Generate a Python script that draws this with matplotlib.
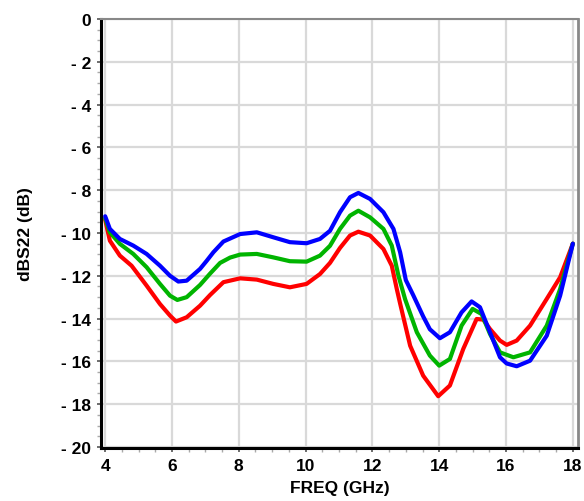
import matplotlib
matplotlib.use("Agg")
import matplotlib.pyplot as plt
from matplotlib.ticker import MultipleLocator, FuncFormatter

freq_blue = [4.0, 4.14, 4.44, 4.84, 5.24, 5.64, 5.94, 6.19, 6.44, 6.84, 7.04, 7.24, 7.54, 8.04, 8.54, 9.03,
             9.53, 10.03, 10.43, 10.73, 11.03, 11.33, 11.58, 11.93, 12.33, 12.63, 12.83, 13.0, 13.22, 13.52,
             13.72, 14.02, 14.32, 14.67, 14.97, 15.22, 15.52, 15.82, 16.02, 16.32, 16.72, 17.22, 17.62, 18.0]
s22_blue = [-9.22, -9.81, -10.28, -10.59, -10.98, -11.53, -12.0, -12.27, -12.23, -11.68, -11.3, -10.9, -10.4,
            -10.05, -9.97, -10.2, -10.43, -10.48, -10.28, -9.9, -9.03, -8.33, -8.13, -8.41, -9.03, -9.81, -10.9,
            -12.2, -12.9, -13.9, -14.5, -14.92, -14.64, -13.71, -13.2, -13.47, -14.64, -15.81, -16.1, -16.23,
            -15.97, -14.8, -12.93, -10.5]

freq_green = [4.0, 4.14, 4.44, 4.84, 5.24, 5.64, 5.94, 6.16, 6.44, 6.84, 7.14, 7.44, 7.74, 8.04, 8.54, 9.03,
              9.53, 10.03, 10.43, 10.73, 11.03, 11.33, 11.58, 11.93, 12.33, 12.58, 12.78, 12.98, 13.33, 13.72,
              14.0, 14.32, 14.67, 15.0, 15.27, 15.52, 15.82, 16.22, 16.72, 17.22, 17.62, 18.0]
s22_green = [-9.31, -9.97, -10.51, -10.98, -11.6, -12.38, -12.93, -13.13, -13.0, -12.43, -11.9, -11.4, -11.15,
             -11.01, -10.98, -11.14, -11.32, -11.34, -11.06, -10.6, -9.81, -9.19, -8.96, -9.27, -9.81, -10.59,
             -12.0, -13.1, -14.64, -15.73, -16.2, -15.89, -14.33, -13.55, -13.79, -14.72, -15.58, -15.81, -15.58,
             -14.33, -12.62, -10.5]

freq_red = [4.0, 4.14, 4.44, 4.79, 5.24, 5.64, 5.94, 6.12, 6.44, 6.84, 7.14, 7.54, 8.04, 8.54, 9.03, 9.53,
            10.03, 10.43, 10.73, 11.03, 11.33, 11.58, 11.93, 12.33, 12.58, 12.73, 12.83, 13.13, 13.52, 13.97,
            14.32, 14.72, 15.12, 15.32, 15.52, 15.82, 16.02, 16.32, 16.72, 17.22, 17.62, 18.0]
s22_red = [-9.38, -10.36, -11.06, -11.53, -12.46, -13.32, -13.86, -14.14, -13.94, -13.4, -12.9, -12.3, -12.12,
           -12.18, -12.38, -12.54, -12.38, -11.92, -11.4, -10.7, -10.12, -9.94, -10.12, -10.75, -11.53, -12.62,
           -13.3, -15.27, -16.67, -17.63, -17.13, -15.42, -14.02, -14.05, -14.49, -15.03, -15.23, -15.03, -14.33,
           -13.08, -12.07, -10.5]

x_ticks = [4, 6, 8, 10, 12, 14, 16, 18]
y_ticks = [0, -2, -4, -6, -8, -10, -12, -14, -16, -18, -20]

plt.rcParams['font.family'] = ['Liberation Sans', 'DejaVu Sans']

fig = plt.figure(figsize=(5.84, 5.02), dpi=100)
ax = fig.add_axes([101/584, 1 - 449/502, 477/584, 429/502])

for f, v, c in [(freq_red, s22_red, '#ff0000'), (freq_green, s22_green, '#00b400'), (freq_blue, s22_blue, '#0000ff')]:
    ax.plot(f, v, color=c, lw=3.0, solid_capstyle='round', solid_joinstyle='round', zorder=3)

ax.set_xlim(3.875, 18.155)
ax.set_ylim(-20.05, 0)
ax.set_xticks(x_ticks)
ax.set_yticks(y_ticks)
ax.xaxis.set_minor_locator(MultipleLocator(0.5))
ax.yaxis.set_minor_locator(MultipleLocator(0.5))
ax.yaxis.set_major_formatter(FuncFormatter(lambda v, p: '0' if v == 0 else '- %d' % abs(round(v))))

ax.grid(True, which='major', color='#d9d9d9', lw=1.6, zorder=0)
ax.tick_params(which='major', length=3, width=1.2, color='#555555', labelsize=12.5, pad=4)
ax.tick_params(which='minor', length=3, width=1.0, color='#aaaaaa')
for lab in ax.get_xticklabels() + ax.get_yticklabels():
    lab.set_fontweight('bold')

ax.spines['left'].set_color('black')
ax.spines['left'].set_linewidth(2.2)
ax.spines['bottom'].set_color('black')
ax.spines['bottom'].set_linewidth(2.2)
ax.spines['top'].set_color('#888888')
ax.spines['top'].set_linewidth(1.5)
ax.spines['right'].set_color('#888888')
ax.spines['right'].set_linewidth(2.0)

ax.set_xlabel('FREQ (GHz)', fontsize=12.5, fontweight='bold', labelpad=5)
ax.set_ylabel('dBS22 (dB)', fontsize=12.5, fontweight='bold', labelpad=20)

fig.savefig('out.png', dpi=100)
